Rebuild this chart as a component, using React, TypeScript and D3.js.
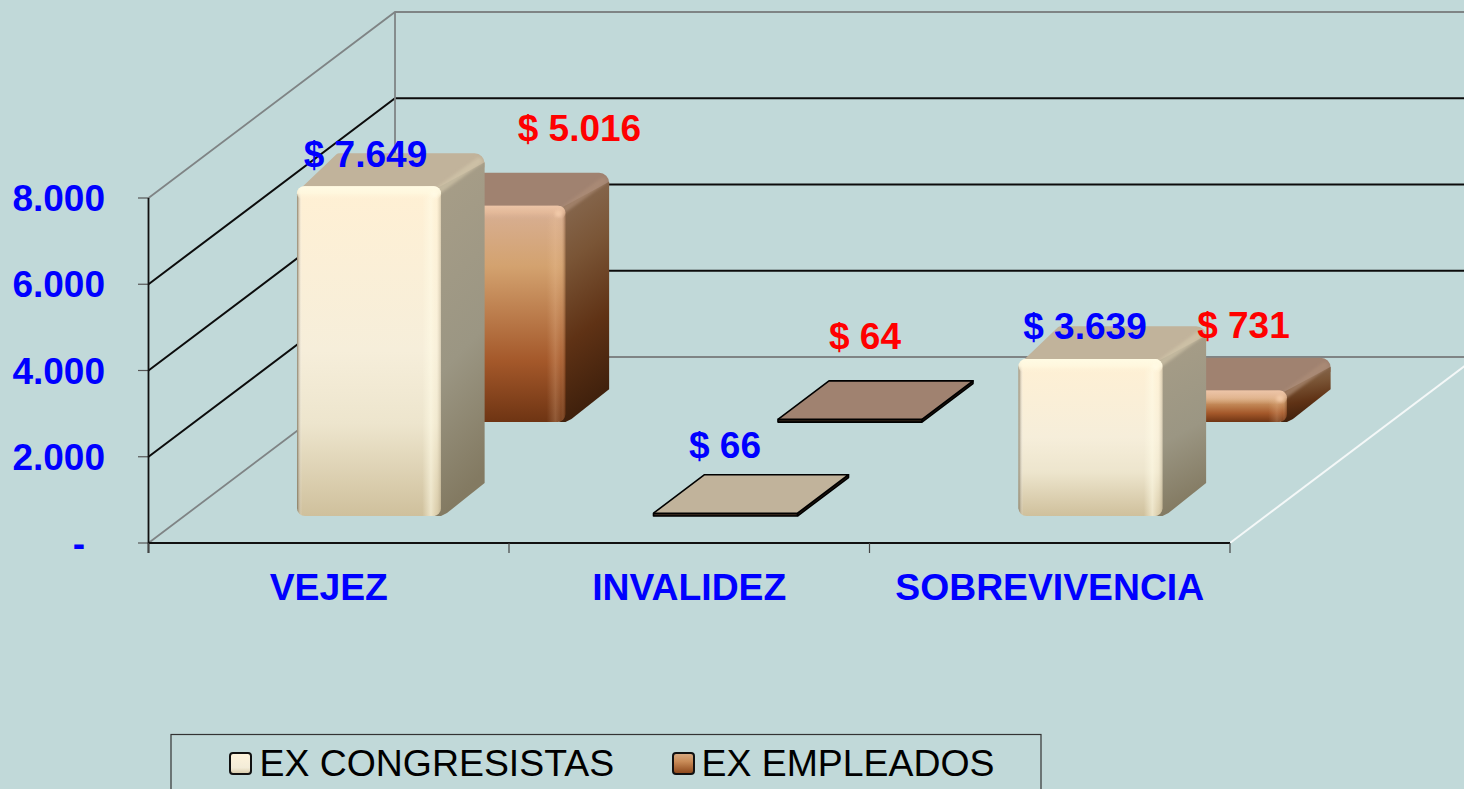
import React from "react";
import * as d3 from "d3";

const WIDTH = 1464;
const HEIGHT = 789;
const FONT = "'Liberation Sans', Arial, sans-serif";

const categories = ["VEJEZ", "INVALIDEZ", "SOBREVIVENCIA"];
const seriesNames = ["EX CONGRESISTAS", "EX EMPLEADOS"];
const congresistas = [7649, 66, 3639];
const empleados = [5016, 64, 731];
const yTicks = [0, 2000, 4000, 6000, 8000];
const yTickLabels = ["-", "2.000", "4.000", "6.000", "8.000"];
const valueLabels = [
  ["$ 7.649", "$ 66", "$ 3.639"],
  ["$ 5.016", "$ 64", "$ 731"],
];

// 3d box of the plot
const FRONT = { left: 148.5, right: 1230, bottom: 543, top: 198 };
const DEPTH = { dx: 246.5, dy: 186 };
const BAR_W = 144;
const SERIES_Z = [0.145, 0.65];
const BAR_DEPTH = 0.177;
const FLAT_DEPTH = 0.207;

// hand moved in the original chart
const barShift = [4.5, 0.5, 5];
const labelShift = [
  [[-3.5, -19], [-0.5, -55], [-5.5, -20]],
  [[86, -65], [15, -70], [28.5, -53]],
];

const xScale = d3.scaleBand<string>().domain(categories).range([FRONT.left, FRONT.right]);
const yScale = d3.scaleLinear().domain([0, 8000]).range([FRONT.bottom, FRONT.top]);
const zX = d3.scaleLinear().domain([0, 1]).range([0, DEPTH.dx]);
const zY = d3.scaleLinear().domain([0, 1]).range([0, -DEPTH.dy]);
const poly = d3.line();

type Pt = [number, number];

// polygon with rounded corners, r per point
function roundPoly(pts: Pt[], r: number[]) {
  const p = d3.path();
  const n = pts.length;
  const mid = (a: Pt, b: Pt): Pt => [(a[0] + b[0]) / 2, (a[1] + b[1]) / 2];
  const start = mid(pts[n - 1], pts[0]);
  p.moveTo(start[0], start[1]);
  pts.forEach((pt, i) => {
    const next = pts[(i + 1) % n];
    p.arcTo(pt[0], pt[1], next[0], next[1], r[i]);
  });
  p.closePath();
  return p.toString();
}

const palette = [
  { top: "#c1b39b", side: "url(#side0)", front: "url(#front0)", ridge: "#d3c7ab", hi: "#fffbe6" },
  { top: "#a08270", side: "url(#side1)", front: "url(#front1)", ridge: "#ae8e78", hi: "#f6cfae" },
];

function Bar({ cat, s, value }: { cat: number; s: number; value: number }) {
  const z = SERIES_Z[s];
  const band = xScale(categories[cat]) as number;
  const xL = band + (xScale.bandwidth() - BAR_W) / 2 + barShift[cat] + zX(z);
  const xR = xL + BAR_W;
  const bottom = yScale(0) + zY(z);
  const top = bottom - (yScale(0) - yScale(value));
  const c = palette[s];
  const flat = bottom - top < 8;
  const dx = zX(flat ? FLAT_DEPTH : BAR_DEPTH);
  const dy = zY(flat ? FLAT_DEPTH : BAR_DEPTH);

  if (flat) {
    return (
      <g stroke="#000" strokeWidth={1.6} strokeLinejoin="round">
        <path
          d={poly([[xR, bottom], [xR + dx, bottom + dy], [xR + dx, top + dy], [xR, top]]) as string}
          fill="#2a1a10"
        />
        <path
          d={poly([[xL, top], [xL + dx, top + dy], [xR + dx, top + dy], [xR, top]]) as string}
          fill={c.top}
        />
        <rect x={xL} y={top} width={BAR_W} height={bottom - top} fill="#33241a" />
      </g>
    );
  }

  return (
    <g>
      <path
        d={roundPoly([[xL + 2, top + 4], [xL + dx - 3, top + dy], [xR + dx, top + dy], [xR + dx, top + dy + 14], [xR, top + 8]], [2, 4, 10, 0, 0])}
        fill={c.top}
      />
      <path
        d={poly([[xR - 4, top + 2], [xR + dx, top + dy + 9], [xR + dx, bottom + dy], [xR + 6, bottom - 3], [xR, bottom], [xR - 6, bottom]]) as string}
        fill={c.side}
      />
      <line
        x1={xR - 2}
        y1={top + 4}
        x2={xR + dx - 6}
        y2={top + dy + 8}
        stroke={c.ridge}
        strokeWidth={7}
        strokeLinecap="round"
        opacity={0.65}
        filter="url(#soft)"
      />
      <rect x={xL} y={top} width={BAR_W} height={bottom - top} rx={8} ry={8} fill={c.front} />
      <rect x={xL} y={top} width={BAR_W} height={bottom - top} rx={8} ry={8} fill={`url(#edge${s})`} />
      <rect x={xL} y={top} width={BAR_W} height={14} rx={7} ry={7} fill={`url(#cap${s})`} />
      <circle cx={xR - 7} cy={top + 8} r={3.5} fill={c.hi} opacity={0.75} filter="url(#soft)" />
    </g>
  );
}

function Defs() {
  const stops = (list: [number, string, number?][]) =>
    list.map(([o, col, a], i) => <stop key={i} offset={o} stopColor={col} stopOpacity={a ?? 1} />);
  return (
    <defs>
      <filter id="soft" x="-30%" y="-30%" width="160%" height="160%">
        <feGaussianBlur stdDeviation={1.6} />
      </filter>
      <linearGradient id="front0" x1={0} y1={0} x2={0} y2={1}>
        {stops([[0, "#fff0d4"], [0.5, "#f6eeda"], [0.72, "#ede5cd"], [1, "#cfc09c"]])}
      </linearGradient>
      <linearGradient id="front1" x1={0} y1={0} x2={0} y2={1}>
        {stops([[0, "#d8b096"], [0.28, "#d3a26f"], [0.72, "#a4582a"], [1, "#6e3413"]])}
      </linearGradient>
      <linearGradient id="side0" x1={0} y1={0} x2={0.15} y2={1}>
        {stops([[0, "#a89e88"], [0.6, "#9b9683"], [1, "#837a62"]])}
      </linearGradient>
      <linearGradient id="side1" x1={0} y1={0} x2={0.15} y2={1}>
        {stops([[0, "#8b6f58"], [0.35, "#7a5536"], [0.68, "#5f3215"], [1, "#3f200c"]])}
      </linearGradient>
      <linearGradient id="edge0" x1={0} y1={0} x2={1} y2={0}>
        {stops([[0, "#6b5f48", 0.75], [0.035, "#ffffff", 0], [0.87, "#fffbe6", 0], [0.93, "#fffbe6", 0.6], [0.97, "#fff6da", 0.25], [1, "#a89a7c", 0.45]])}
      </linearGradient>
      <linearGradient id="edge1" x1={0} y1={0} x2={1} y2={0}>
        {stops([[0, "#3c1c08", 0.5], [0.035, "#ffffff", 0], [0.87, "#f3c8a0", 0], [0.93, "#f3c8a0", 0.25], [0.97, "#f3c8a0", 0.1], [1, "#50280e", 0.45]])}
      </linearGradient>
      <linearGradient id="cap0" x1={0} y1={0} x2={0} y2={1}>
        {stops([[0, "#fffbe4", 1], [0.5, "#fff8df", 0.9], [1, "#fff1d6", 0]])}
      </linearGradient>
      <linearGradient id="cap1" x1={0} y1={0} x2={0} y2={1}>
        {stops([[0, "#eec6a8", 0.95], [0.5, "#e8bd9c", 0.7], [1, "#d8b096", 0]])}
      </linearGradient>
      <linearGradient id="legend0" x1={0} y1={0} x2={0} y2={1}>
        {stops([[0, "#fff4dc"], [0.7, "#f3ecd8"], [1, "#d6c8a6"]])}
      </linearGradient>
      <linearGradient id="legend1" x1={0} y1={0} x2={0} y2={1}>
        {stops([[0, "#d8ab84"], [0.4, "#c98c58"], [1, "#8a4418"]])}
      </linearGradient>
    </defs>
  );
}

export default function App() {
  const x0 = FRONT.left;
  const xBackL = x0 + DEPTH.dx;
  const xBackR = FRONT.right + DEPTH.dx;
  const catEdges = [...categories.map((c) => xScale(c) as number), FRONT.right];

  return (
    <svg
      width={WIDTH}
      height={HEIGHT}
      style={{ position: "absolute", left: 0, top: 0, display: "block", background: "#c1d9d9" }}
      fontFamily={FONT}
    >
      <Defs />

      {/* walls */}
      {yTicks.map((t) => {
        const grey = t === 0 || t === 8000;
        const col = grey ? "#7f8485" : "#0c0c0c";
        const w = grey ? 1.8 : 2;
        const y = yScale(t);
        return (
          <g key={t} fill="none">
            <path d={poly([[x0, y], [xBackL, y - DEPTH.dy], [xBackR, y - DEPTH.dy]]) as string} stroke={col} strokeWidth={w} />
            <line x1={138} x2={x0} y1={y} y2={y} stroke="#555" strokeWidth={1.2} />
          </g>
        );
      })}
      <line x1={xBackL} x2={xBackL} y1={yScale(8000) - DEPTH.dy} y2={yScale(0) - DEPTH.dy} stroke="#7f8485" strokeWidth={1.8} />
      <line x1={FRONT.right} y1={yScale(0)} x2={xBackR} y2={yScale(0) - DEPTH.dy} stroke="#f4f8f8" strokeWidth={2} />

      {/* bars, back row first */}
      {categories.map((_, i) => (
        <g key={i}>
          <Bar cat={i} s={1} value={empleados[i]} />
          <Bar cat={i} s={0} value={congresistas[i]} />
        </g>
      ))}

      {/* axes */}
      <line x1={x0} x2={x0} y1={yScale(8000)} y2={yScale(0) + 10} stroke="#111" strokeWidth={1.8} />
      <line x1={x0} x2={FRONT.right} y1={yScale(0)} y2={yScale(0)} stroke="#111" strokeWidth={2.2} />
      {catEdges.map((x, i) => (
        <line key={i} x1={x} x2={x} y1={yScale(0)} y2={yScale(0) + 10} stroke="#444" strokeWidth={1.2} />
      ))}

      {yTicks.map((t, i) => (
        <text
          key={t}
          x={t === 0 ? 85 : 105}
          y={yScale(t) + 13}
          textAnchor="end"
          fontSize={37}
          fontWeight="bold"
          fill="#0000ff"
        >
          {yTickLabels[i]}
        </text>
      ))}

      {categories.map((c) => (
        <text
          key={c}
          x={(xScale(c) as number) + xScale.bandwidth() / 2}
          y={600}
          textAnchor="middle"
          fontSize={37.3}
          fontWeight="bold"
          fill="#0000ff"
        >
          {c}
        </text>
      ))}

      {/* value labels */}
      {[congresistas, empleados].map((vals, s) =>
        vals.map((v, i) => {
          const xL =
            (xScale(categories[i]) as number) +
            (xScale.bandwidth() - BAR_W) / 2 +
            barShift[i] +
            zX(SERIES_Z[s]);
          const top = yScale(v) + zY(SERIES_Z[s]);
          return (
            <text
              key={`${s}-${i}`}
              x={xL + BAR_W / 2 + labelShift[s][i][0]}
              y={top + labelShift[s][i][1]}
              textAnchor="middle"
              fontSize={37}
              fontWeight="bold"
              fill={s === 0 ? "#0000ff" : "#ff0000"}
            >
              {valueLabels[s][i]}
            </text>
          );
        })
      )}

      {/* legend */}
      <rect x={171} y={734.5} width={870} height={80} fill="none" stroke="#333" strokeWidth={1.2} />
      {seriesNames.map((name, i) => {
        const x = i === 0 ? 230 : 673;
        return (
          <g key={name}>
            <rect x={x} y={753} width={21} height={21} rx={3} fill={`url(#legend${i})`} stroke="#111" strokeWidth={2} />
            <text x={x + (i === 0 ? 29.5 : 28.5)} y={776} fontSize={37.4} fill="#000">
              {name}
            </text>
          </g>
        );
      })}
    </svg>
  );
}
